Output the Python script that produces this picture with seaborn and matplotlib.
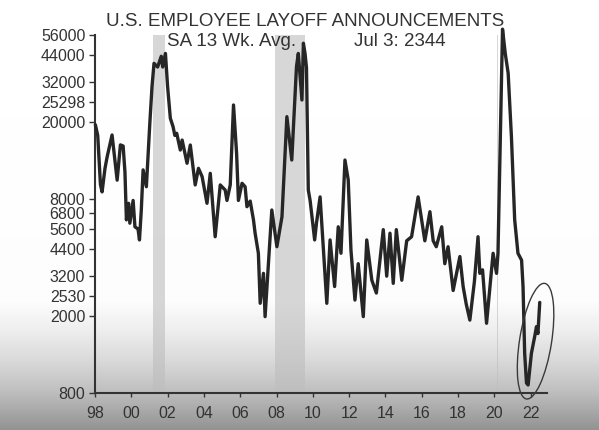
import numpy as np
import matplotlib
matplotlib.use("Agg")
import matplotlib.pyplot as plt
import seaborn as sns
from matplotlib.patches import Ellipse
from matplotlib.transforms import IdentityTransform
from matplotlib.ticker import NullLocator

# ---- data ----
years = [
    1998.02, 1998.15, 1998.30, 1998.39, 1998.55, 1998.67, 1998.94, 1999.10, 1999.22, 1999.40,
    1999.55, 1999.65, 1999.73, 1999.85, 1999.92, 2000.10, 2000.20, 2000.37, 2000.45, 2000.55,
    2000.65, 2000.83, 2001.02, 2001.14, 2001.25, 2001.45, 2001.65, 2001.73, 2001.88, 2002.00,
    2002.15, 2002.30, 2002.40, 2002.50, 2002.70, 2002.80, 2003.07, 2003.25, 2003.52, 2003.70,
    2003.90, 2004.17, 2004.35, 2004.62, 2004.90, 2005.17, 2005.27, 2005.45, 2005.63, 2005.80,
    2005.90, 2006.10, 2006.27, 2006.37, 2006.55, 2006.73, 2006.82, 2007.00, 2007.10, 2007.28,
    2007.37, 2007.74, 2008.02, 2008.30, 2008.57, 2008.84, 2009.10, 2009.20, 2009.40, 2009.48,
    2009.57, 2009.65, 2009.75, 2009.85, 2010.10, 2010.20, 2010.40, 2010.77, 2010.95, 2011.20,
    2011.40, 2011.55, 2011.77, 2011.95, 2012.10, 2012.32, 2012.50, 2012.78, 2012.97, 2013.25,
    2013.50, 2013.88, 2014.07, 2014.25, 2014.43, 2014.60, 2014.90, 2015.17, 2015.44, 2015.80,
    2016.17, 2016.45, 2016.63, 2016.80, 2017.10, 2017.27, 2017.45, 2017.73, 2018.10, 2018.28,
    2018.45, 2018.65, 2018.90, 2019.10, 2019.20, 2019.35, 2019.57, 2019.93, 2020.12, 2020.20,
    2020.45, 2020.60, 2020.76, 2020.94, 2021.12, 2021.30, 2021.50, 2021.58, 2021.67, 2021.77,
    2021.86, 2022.04, 2022.22, 2022.32, 2022.40, 2022.50,
]
layoffs = [
    19300, 17000, 9500, 8700, 11500, 13200, 17100, 12500, 10000, 15200,
    15000, 11000, 6240, 7600, 6000, 7860, 5750, 5600, 4920, 7000,
    11300, 9250, 19650, 30300, 40000, 38300, 43500, 38300, 45000, 30300,
    20850, 18870, 17000, 17450, 14300, 16100, 12220, 15180, 9450, 11510,
    10430, 7600, 10850, 5110, 9450, 8900, 7860, 9450, 24400, 13760,
    7860, 9640, 9250, 7300, 7800, 6240, 5330, 4200, 2320, 3310,
    1980, 7020, 4540, 6480, 21250, 12700, 38500, 45000, 25900, 50800,
    45000, 38000, 8900, 7860, 4920, 6000, 8200, 2320, 4920, 2830,
    5750, 4200, 12700, 10030, 4360, 2410, 3710, 1980, 4920, 3050,
    2620, 5560, 3200, 5330, 2940, 5560, 3050, 4870, 5110, 8200,
    4870, 6880, 4870, 4540, 5750, 3710, 4540, 2700, 4040, 2830,
    2300, 1900, 3000, 5110, 3310, 3450, 1830, 4200, 3310, 4200,
    60000, 45000, 35600, 16750, 6240, 4200, 3870, 2830, 1280, 900,
    880, 1280, 1560, 1760, 1620, 2344,
]
y_ticks = [800, 2000, 2530, 3200, 4400, 5600, 6800, 8000, 20000, 25298, 32000, 44000, 56000]
x_ticks = list(range(1998, 2023, 2))
x_labels = [f"{t % 100:02d}" for t in x_ticks]
recessions = [(2001.20, 2001.85), (2007.92, 2009.55), (2020.13, 2020.20)]
title = "U.S. EMPLOYEE LAYOFF ANNOUNCEMENTS"
subtitle = "SA 13 Wk. Avg."
latest = "Jul 3: 2344"
# annotation ellipse around the 2021-22 trough (data-space centre)
ellipse_center = (2022.27, 1480)

# ---- style ----
sns.set_theme(style="white")
plt.rcParams["font.family"] = ["Liberation Sans", "DejaVu Sans"]
TXT = "#333333"

W, H = 599, 430
fig = plt.figure(figsize=(W / 100, H / 100), dpi=100)

# background gradient (grey fade at bottom of the screenshot)
bg = fig.add_axes([0, 0, 1, 1], zorder=-10)
rows = np.arange(H)
g = np.interp(rows, [0, 300, 330, 360, 390, 430], [1.0, 0.99, 0.93, 0.85, 0.75, 0.57])
img = np.repeat(g[:, None], W, axis=1)
bg.imshow(img, cmap="gray", vmin=0, vmax=1, aspect="auto", extent=[0, 1, 0, 1])
bg.set_axis_off()

ax = fig.add_axes([95 / W, 1 - 393 / H, (547 - 95) / W, (393 - 35) / H])
ax.patch.set_alpha(0)

for x0, x1 in recessions:
    ax.axvspan(x0, x1, color="#bdbdbd", alpha=0.6, lw=0, zorder=0)

sns.lineplot(x=years, y=layoffs, ax=ax, color="#262626", linewidth=2.4,
             estimator=None, zorder=3)
for ln in ax.lines:
    ln.set_clip_on(False)

ax.set_yscale("log")
ax.set_ylim(800, 56000)
ax.set_xlim(1998, 2022.9)
ax.yaxis.set_minor_locator(NullLocator())
ax.xaxis.set_minor_locator(NullLocator())
ax.set_yticks(y_ticks)
ax.set_yticklabels([str(v) for v in y_ticks])
ax.set_xticks(x_ticks)
ax.set_xticklabels(x_labels)
ax.set_xlabel("")
ax.set_ylabel("")

for s in ["top", "right"]:
    ax.spines[s].set_visible(False)
for s in ["left", "bottom"]:
    ax.spines[s].set_color(TXT)
    ax.spines[s].set_linewidth(1.5)

ax.tick_params(axis="y", direction="out", length=4, width=1, color=TXT,
               labelsize=11.5, labelcolor=TXT, pad=3, left=True)
ax.tick_params(axis="x", direction="out", length=3, width=1, color=TXT,
               labelsize=11.5, labelcolor=TXT, pad=6, bottom=True)

fig.text(305 / W, 1 - 21 / H, title, ha="center", va="center",
         fontsize=13.5, color=TXT)
fig.text(232 / W, 1 - 42 / H, subtitle, ha="center", va="center",
         fontsize=13.5, color=TXT)
fig.text(400 / W, 1 - 42 / H, latest, ha="center", va="center",
         fontsize=13.5, color=TXT)

# ellipse annotation (pixel-sized, positioned from data coords)
cx, cy = ax.transData.transform(ellipse_center)
ell = Ellipse((cx, cy), 32, 117, angle=-9, transform=IdentityTransform(),
              fill=False, edgecolor="#3a3a3a", linewidth=1.0, zorder=5)
fig.add_artist(ell)

fig.savefig("out.png", dpi=100)
